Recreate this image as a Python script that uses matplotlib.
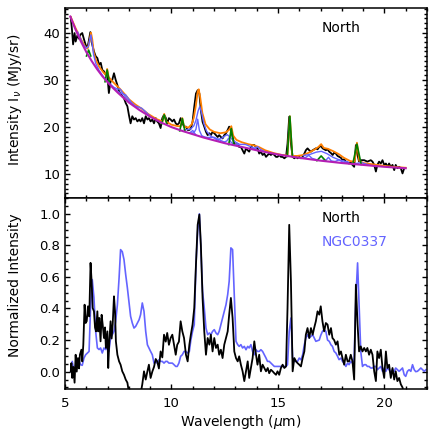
import matplotlib
matplotlib.use("Agg")
import matplotlib.pyplot as plt
from matplotlib.ticker import MultipleLocator, FormatStrFormatter

plt.rcParams['font.family'] = ['DejaVu Sans']
plt.rcParams['mathtext.fontset'] = 'dejavusans'

# ---- top panel: North spectrum and fit ----
wave_north = [5.27, 5.33, 5.38, 5.45, 5.50, 5.58, 5.66, 5.73, 5.81, 5.89, 5.97, 6.05,
              6.12, 6.19, 6.25, 6.36, 6.44, 6.52, 6.60, 6.68, 6.75, 6.83, 6.91, 6.98,
              7.06, 7.14, 7.22, 7.30, 7.38, 7.46, 7.54, 7.61, 7.69, 7.77, 7.85, 7.93,
              8.00, 8.08, 8.16, 8.24, 8.32, 8.40, 8.48, 8.55, 8.63, 8.71, 8.79, 8.87,
              8.94, 9.02, 9.10, 9.18, 9.26, 9.33, 9.41, 9.49, 9.57, 9.65, 9.73, 9.80,
              9.88, 9.96, 10.04, 10.12, 10.20, 10.27, 10.35, 10.43, 10.51, 10.59, 10.68,
              10.76, 10.84, 10.91, 10.99, 11.07, 11.15, 11.23, 11.31, 11.38, 11.46, 11.54,
              11.62, 11.70, 11.78, 11.85, 11.93, 12.01, 12.09, 12.17, 12.24, 12.32, 12.40,
              12.48, 12.56, 12.64, 12.71, 12.79, 12.87, 12.95, 13.03, 13.11, 13.18, 13.26,
              13.34, 13.42, 13.50, 13.58, 13.65, 13.73, 13.81, 13.89, 13.97, 14.04, 14.12,
              14.20, 14.28, 14.36, 14.44, 14.52, 14.59, 14.67, 14.75, 14.83, 14.91, 14.98,
              15.06, 15.14, 15.22, 15.30, 15.38, 15.45, 15.53, 15.61, 15.69, 15.77, 15.85,
              15.92, 16.00, 16.08, 16.16, 16.24, 16.31, 16.39, 16.47, 16.55, 16.63, 16.78,
              16.86, 16.94, 17.02, 17.10, 17.18, 17.25, 17.33, 17.41, 17.49, 17.57, 17.64,
              17.72, 17.80, 17.88, 17.96, 18.03, 18.11, 18.19, 18.27, 18.34, 18.42, 18.50,
              18.58, 18.66, 18.74, 18.81, 18.89, 19.05, 19.20, 19.36, 19.44, 19.52, 19.60,
              19.67, 19.75, 19.83, 19.91, 19.99, 20.07, 20.14, 20.22, 20.30, 20.38, 20.46,
              20.53, 20.61, 20.69, 20.77, 20.85, 20.93]
flux_north = [43.2, 40.5, 37.5, 39.9, 38.1, 39.4, 38.7, 39.6, 39.9, 38.6, 37.4, 36.7,
              38.3, 40.1, 38.0, 36.0, 35.0, 34.6, 33.2, 33.6, 32.1, 31.8, 31.1, 31.4,
              27.2, 29.7, 30.0, 31.4, 30.0, 28.9, 27.5, 27.2, 26.5, 26.1, 25.1, 24.4,
              22.6, 20.8, 22.3, 21.6, 21.9, 21.2, 21.6, 21.2, 21.9, 20.8, 22.3, 21.6,
              21.9, 21.2, 21.6, 20.8, 21.9, 21.2, 20.8, 19.8, 21.9, 22.6, 22.0, 20.8,
              21.9, 21.6, 21.2, 21.6, 20.8, 20.5, 20.8, 21.9, 20.9, 20.1, 20.1,
              19.4, 19.4, 19.7, 21.1, 24.3, 27.1, 27.8, 27.1, 23.6, 21.1, 20.1,
              19.0, 18.3, 18.7, 18.3, 19.0, 18.7, 18.3, 17.9, 18.3, 17.9, 17.6,
              18.3, 18.7, 19.4, 20.1, 19.7, 17.9, 16.5, 16.2, 16.5, 15.8, 15.8,
              15.1, 14.4, 15.5, 15.1, 14.8, 15.8, 16.2, 16.2, 15.8, 15.5, 14.4,
              14.8, 14.1, 14.4, 13.7, 14.1, 14.4, 14.1, 14.4, 14.1, 13.7, 13.7,
              14.1, 13.7, 13.7, 13.4, 13.7, 16.5, 22.2, 16.5, 13.7, 13.4, 13.7,
              13.4, 13.7, 13.4, 13.7, 14.4, 15.1, 15.5, 15.1, 14.8, 15.1, 15.5,
              15.3, 15.8, 16.0, 15.5, 15.3, 15.1, 15.3, 14.8, 14.5, 14.1, 14.6,
              14.4, 13.9, 13.7, 13.5, 13.0, 13.2, 12.7, 12.5, 12.3, 12.5, 12.0,
              11.6, 16.2, 14.0, 12.7, 13.0, 13.0, 12.7, 13.0, 12.7, 12.0, 10.6,
              12.0, 12.7, 12.3, 13.0, 12.0, 12.3, 11.6, 12.3, 11.6, 12.0, 10.9,
              12.0, 11.3, 11.6, 11.3, 10.2, 11.3]

wave_cont = [5.25, 5.5, 5.75, 6.0, 6.25, 6.5, 6.75, 7.0, 7.25, 7.5, 8.0, 8.5, 9.0,
             9.5, 10.0, 10.5, 11.0, 11.5, 12.0, 12.5, 13.0, 14.0, 15.0, 16.0, 17.0,
             18.0, 19.0, 20.0, 21.0]
flux_cont = [43.4, 40.6, 38.1, 35.9, 34.0, 32.3, 30.8, 29.5, 28.3, 27.2, 25.2, 23.6,
             22.2, 21.0, 20.0, 19.2, 18.5, 17.8, 17.2, 16.6, 16.1, 15.1, 14.2, 13.5,
             12.9, 12.4, 12.0, 11.6, 11.3]

wave_fit = [5.27, 5.5, 5.75, 5.95, 6.05, 6.11, 6.16, 6.22, 6.28, 6.35, 6.45, 6.6, 6.8,
            6.92, 6.98, 7.05, 7.2, 7.4, 7.6, 7.8, 8.0, 8.3, 8.6, 8.9, 9.3, 9.58, 9.66,
            9.74, 10.0, 10.3, 10.43, 10.51, 10.59, 10.8, 10.95, 11.05, 11.15, 11.23,
            11.28, 11.35, 11.45, 11.6, 11.8, 12.0, 12.3, 12.55, 12.7, 12.81, 12.9,
            13.05, 13.3, 13.6, 13.9, 14.1, 14.4, 14.8, 15.2, 15.45, 15.56, 15.67, 15.9,
            16.2, 16.45, 16.7, 16.9, 17.03, 17.15, 17.35, 17.6, 17.85, 18.1, 18.4, 18.6,
            18.71, 18.82, 19.0, 19.5, 20.0, 20.5, 21.0]
flux_fit = [43.3, 40.9, 38.6, 37.0, 36.6, 37.3, 38.4, 40.0, 38.6, 35.8, 34.2, 32.8, 31.6,
            31.0, 32.3, 30.6, 29.8, 28.9, 28.0, 27.0, 25.9, 24.8, 23.9, 22.8, 21.7, 21.2,
            22.8, 21.2, 20.5, 20.2, 20.2, 21.9, 20.1, 19.9, 20.6, 22.0, 24.7, 27.5,
            28.0, 26.3, 23.0, 20.6, 19.5, 19.0, 18.7, 18.9, 19.4, 20.2, 18.2,
            17.3, 16.8, 16.4, 16.1, 15.8, 15.1, 14.5, 14.1, 14.0, 22.3, 13.9, 13.9,
            14.1, 14.6, 15.2, 15.8, 16.4, 15.6, 15.4, 14.9, 14.3, 13.5, 12.8, 12.7,
            16.7, 12.9, 12.4, 12.1, 11.8, 11.55, 11.4]

# PAH features, each drawn as continuum + feature
pah_waves = [
    [5.6, 5.85, 6.0, 6.1, 6.16, 6.22, 6.28, 6.34, 6.44, 6.6, 6.8, 7.0],
    [7.0, 7.3, 7.45, 7.6, 7.75, 7.9, 8.2],
    [7.3, 7.6, 7.75, 7.85, 7.95, 8.1, 8.4],
    [8.2, 8.45, 8.6, 8.75, 9.0],
    [10.85, 10.95, 11.0, 11.05, 11.15],
    [10.9, 11.05, 11.15, 11.23, 11.31, 11.42, 11.6],
    [10.6, 10.9, 11.05, 11.15, 11.25, 11.33, 11.42, 11.52, 11.65, 11.85, 12.2],
    [11.5, 11.75, 12.0, 12.25, 12.5],
    [12.1, 12.35, 12.5, 12.62, 12.75, 12.9, 13.2],
    [12.45, 12.6, 12.69, 12.78, 12.95],
    [13.0, 13.25, 13.48, 13.7, 14.0],
    [13.75, 13.9, 14.04, 14.18, 14.35],
    [16.1, 16.3, 16.45, 16.6, 16.8],
    [16.2, 16.5, 16.8, 17.04, 17.3, 17.6, 17.9, 18.3],
    [17.1, 17.25, 17.375, 17.5, 17.65],
    [17.5, 17.7, 17.87, 18.05, 18.3],
    [18.6, 18.8, 18.92, 19.05, 19.3],
]
pah_fluxes = [
    [40.1, 37.5, 36.7, 37.1, 38.5, 39.5, 37.6, 35.4, 33.5, 32.0, 30.7, 29.6],
    [29.6, 28.4, 28.1, 28.0, 26.9, 25.9, 24.6],
    [28.2, 27.2, 27.0, 26.8, 26.2, 25.3, 24.0],
    [24.6, 24.25, 24.0, 23.4, 22.3],
    [18.8, 19.1, 19.3, 18.9, 18.35],
    [18.76, 18.78, 19.55, 21.68, 19.33, 18.21, 17.77],
    [19.41, 19.59, 20.27, 21.44, 23.41, 24.34, 22.94, 20.76, 19.13, 18.06, 17.22],
    [17.9, 17.8, 17.85, 17.3, 16.8],
    [17.3, 17.6, 18.1, 18.4, 17.9, 17.15, 16.29],
    [16.79, 17.07, 17.71, 16.89, 16.26],
    [16.3, 16.35, 16.32, 15.9, 15.27],
    [15.45, 15.55, 15.86, 15.29, 14.88],
    [13.54, 13.57, 14.03, 13.39, 13.12],
    [13.98, 14.22, 14.7, 14.88, 14.39, 13.58, 13.03, 12.6],
    [12.95, 12.98, 13.61, 12.85, 12.68],
    [12.72, 12.75, 13.07, 12.58, 12.35],
    [12.26, 12.38, 12.53, 12.28, 11.98],
]

# emission lines: centre, continuum level, peak, half width
line_center = [6.11, 6.98, 9.66, 10.51, 12.81, 15.56, 17.03, 18.71]
line_base = [35.05, 29.6, 20.7, 19.2, 16.3, 13.8, 12.9, 12.1]
line_peak = [36.3, 32.1, 22.6, 21.8, 19.7, 22.3, 13.9, 16.4]
line_hw = [0.1, 0.1, 0.12, 0.12, 0.12, 0.12, 0.2, 0.2]

# ---- bottom panel: normalized spectra ----
wave_norm = [5.27, 5.30, 5.34, 5.39, 5.45, 5.50, 5.55, 5.61, 5.66, 5.70, 5.77, 5.81,
             5.86, 5.92, 5.97, 6.02, 6.08, 6.14, 6.20, 6.25, 6.30, 6.36, 6.41, 6.46,
             6.52, 6.56, 6.61, 6.67, 6.72, 6.77, 6.83, 6.88, 6.92, 6.99, 7.03, 7.08,
             7.14, 7.19, 7.24, 7.30, 7.35, 7.39, 7.46, 7.54, 7.61, 7.69, 7.77, 7.85,
             7.93, 8.00, 8.10, 8.25, 8.40, 8.55, 8.63, 8.71, 8.79, 8.87, 8.94, 9.02,
             9.10, 9.18, 9.26, 9.33, 9.41, 9.49, 9.57, 9.65, 9.73, 9.80, 9.88, 9.96,
             10.04, 10.12, 10.20, 10.27, 10.35, 10.43, 10.51, 10.59, 10.68, 10.76, 10.84,
             10.91, 10.99, 11.07, 11.15, 11.23, 11.31, 11.38, 11.46, 11.54, 11.62, 11.70,
             11.78, 11.85, 11.93, 12.01, 12.09, 12.17, 12.24, 12.32, 12.40, 12.48, 12.56,
             12.64, 12.71, 12.79, 12.87, 12.95, 13.03, 13.11, 13.18, 13.26, 13.34, 13.42,
             13.50, 13.58, 13.65, 13.73, 13.81, 13.89, 13.97, 14.04, 14.12, 14.20, 14.28,
             14.36, 14.44, 14.52, 14.59, 14.67, 14.75, 14.83, 14.91, 14.98, 15.06, 15.14,
             15.22, 15.30, 15.38, 15.45, 15.53, 15.61, 15.69, 15.77, 15.85, 15.92, 16.00,
             16.08, 16.16, 16.24, 16.31, 16.39, 16.47, 16.55, 16.63, 16.70, 16.78, 16.86,
             16.94, 17.01, 17.09, 17.17, 17.25, 17.33, 17.41, 17.49, 17.56, 17.64, 17.72,
             17.80, 17.88, 17.96, 18.03, 18.11, 18.19, 18.27, 18.34, 18.42, 18.50, 18.58,
             18.66, 18.74, 18.81, 18.89, 18.97, 19.05, 19.13, 19.20, 19.28, 19.36, 19.44,
             19.52, 19.60, 19.67, 19.75, 19.83, 19.91, 19.99, 20.07, 20.14, 20.22, 20.30,
             20.38, 20.46, 20.53, 20.61, 20.69, 20.77, 20.85, 20.93]
norm_north = [0.00, 0.054, -0.04, 0.03, -0.07, 0.107, 0.0, 0.086, 0.02, 0.107, 0.139, 0.065,
              0.171, 0.424, 0.308, 0.32, 0.414, 0.35, 0.689, 0.572, 0.403, 0.382, 0.28, 0.255,
              0.382, 0.255, 0.34, 0.192, 0.36, 0.298, 0.213, 0.28, 0.15, 0.255, 0.023, 0.19,
              0.319, 0.21, 0.30, 0.477, 0.38, 0.192, 0.107, 0.065, 0.044, 0.002, -0.02, -0.05,
              -0.07, -0.13, -0.2, -0.25, -0.22, -0.14, -0.08, 0.002, -0.05, 0.002, 0.044, -0.04,
              0.0, 0.03, 0.08, 0.065, 0.02, 0.128, 0.09, 0.234, 0.19, 0.245, 0.17, 0.213,
              0.234, 0.17, 0.107, 0.17, 0.19, 0.319, 0.255, 0.213, 0.107, 0.065, 0.171,
              0.234, 0.298, 0.403, 0.678, 0.93, 0.995, 0.805, 0.467, 0.255, 0.107, 0.213,
              0.171, 0.234, 0.128, 0.213, 0.15, 0.171, 0.107, 0.139, 0.086, 0.171, 0.213,
              0.255, 0.361, 0.467, 0.34, 0.128, 0.086, 0.065, 0.097, 0.044, 0.002, -0.06,
              0.002, 0.065, -0.04, 0.023, 0.086, 0.192, 0.107, 0.044, 0.107, 0.002, 0.044,
              0.023, 0.002, 0.023, -0.01, 0.012, 0.002, -0.01, -0.02, 0.002, -0.02, 0.023,
              0.044, 0.023, 0.033, 0.403, 0.93, 0.572, 0.002, 0.086, 0.065, 0.054, 0.044,
              0.033, 0.086, 0.128, 0.234, 0.276, 0.213, 0.276, 0.234, 0.276, 0.319, 0.382,
              0.361, 0.414, 0.319, 0.255, 0.308, 0.298, 0.234, 0.276, 0.213, 0.2, 0.171,
              0.192, 0.107, 0.128, 0.086, 0.044, 0.107, 0.065, 0.065, 0.107, 0.065, -0.05,
              0.551, 0.298, 0.128, 0.16, 0.128, 0.15, 0.128, 0.15, 0.107, 0.139, 0.107,
              0.002, -0.06, 0.128, 0.086, 0.139, 0.023, -0.04, 0.128, 0.023, 0.044, -0.04,
              0.023, -0.05, 0.002, -0.06, -0.04, -0.08, -0.1, -0.15]

wave_ngc = [5.27, 5.34, 5.42, 5.50, 5.58, 5.66, 5.73, 5.81, 5.89, 5.97, 6.05, 6.13,
            6.20, 6.28, 6.36, 6.44, 6.52, 6.60, 6.67, 6.75, 6.83, 6.91, 6.99, 7.06,
            7.14, 7.22, 7.30, 7.38, 7.46, 7.54, 7.61, 7.69, 7.77, 7.85, 7.93, 8.00,
            8.08, 8.16, 8.24, 8.32, 8.40, 8.48, 8.55, 8.63, 8.71, 8.79, 8.87, 8.94,
            9.02, 9.10, 9.18, 9.26, 9.33, 9.41, 9.49, 9.57, 9.65, 9.73, 9.80, 9.88,
            9.96, 10.04, 10.12, 10.20, 10.27, 10.35, 10.43, 10.51, 10.59, 10.67, 10.76,
            10.84, 10.91, 10.99, 11.07, 11.15, 11.23, 11.31, 11.38, 11.46, 11.54, 11.62,
            11.70, 11.78, 11.85, 11.93, 12.01, 12.09, 12.17, 12.24, 12.32, 12.40, 12.48,
            12.56, 12.64, 12.71, 12.79, 12.87, 12.95, 13.03, 13.11, 13.18, 13.26, 13.34,
            13.42, 13.50, 13.58, 13.65, 13.73, 13.81, 13.89, 13.97, 14.04, 14.12, 14.20,
            14.28, 14.36, 14.44, 14.51, 14.59, 14.67, 14.75, 14.83, 15.00, 15.20, 15.38,
            15.45, 15.53, 15.61, 15.69, 15.77, 15.85, 15.92, 16.00, 16.08, 16.16, 16.24,
            16.31, 16.39, 16.47, 16.63, 16.78, 16.94, 17.01, 17.09, 17.17, 17.25, 17.33,
            17.41, 17.49, 17.56, 17.64, 17.72, 17.80, 17.87, 17.96, 18.03, 18.11, 18.19,
            18.27, 18.34, 18.42, 18.50, 18.58, 18.66, 18.74, 18.81, 18.89, 18.97, 19.05,
            19.13, 19.20, 19.28, 19.36, 19.44, 19.52, 19.60, 19.67, 19.75, 19.83, 19.91,
            19.99, 20.07, 20.14, 20.22, 20.30, 20.38, 20.46, 20.53, 20.61, 20.69, 20.77,
            20.85, 20.93, 21.00, 21.08, 21.16, 21.24, 21.32, 21.40, 21.47, 21.55, 21.63,
            21.71, 21.79, 21.87, 21.95]
norm_ngc = [0.002, 0.065, 0.002, 0.044, 0.03, 0.065, 0.044, 0.04, 0.086, 0.107, 0.118, 0.128,
            0.403, 0.583, 0.467, 0.255, 0.15, 0.14, 0.15, 0.118, 0.15, 0.14, 0.15, 0.128,
            0.213, 0.234, 0.255, 0.319, 0.424, 0.594, 0.773, 0.76, 0.71, 0.615, 0.53, 0.446,
            0.351, 0.308, 0.276, 0.287, 0.308, 0.329, 0.361, 0.435, 0.382, 0.255, 0.17, 0.15,
            0.128, 0.107, 0.054, 0.065, 0.054, 0.075, 0.065, 0.065, 0.054, 0.065, 0.065, 0.054,
            0.054, 0.054, 0.044, 0.033, 0.033, 0.054, 0.097, 0.107, 0.128, 0.128, 0.118,
            0.128, 0.2, 0.255, 0.298, 0.678, 0.89, 1.0, 0.784, 0.509, 0.403, 0.276,
            0.234, 0.245, 0.234, 0.255, 0.266, 0.245, 0.234, 0.255, 0.298, 0.34, 0.382,
            0.424, 0.488, 0.572, 0.784, 0.773, 0.488, 0.192, 0.171, 0.16, 0.171, 0.15,
            0.16, 0.139, 0.16, 0.15, 0.171, 0.128, 0.107, 0.139, 0.128, 0.128, 0.139,
            0.128, 0.107, 0.086, 0.065, 0.065, 0.054, 0.044, 0.033, 0.033, 0.033, 0.033,
            0.044, 0.255, 0.34, 0.086, 0.065, 0.065, 0.065, 0.086, 0.075, 0.107, 0.171,
            0.213, 0.234, 0.213, 0.234, 0.192, 0.2, 0.23, 0.255, 0.266, 0.255, 0.2,
            0.192, 0.17, 0.16, 0.128, 0.118, 0.097, 0.076, 0.086, 0.065, 0.054, 0.033,
            0.054, 0.044, 0.065, 0.054, 0.086, 0.467, 0.689, 0.424, 0.128, 0.033, 0.044,
            0.044, 0.033, 0.033, 0.023, 0.023, 0.033, 0.033, 0.012, 0.023, 0.033, 0.002,
            0.023, 0.002, 0.023, 0.012, -0.01, 0.012, 0.002, 0.023, 0.012, 0.002, 0.012,
            0.023, -0.02, -0.03, 0.002, 0.012, 0.002, 0.044, 0.012, 0.0, 0.002, 0.012,
            0.023, 0.012, 0.002, 0.012]

black = '#000000'
orange = '#ff7f00'
blue = '#6464ff'
green = '#008000'
magenta = '#b41eb4'

fig = plt.figure(figsize=(4.36, 4.36), dpi=100)
W = H = 436.0
ax1 = fig.add_axes([65 / W, 1 - 198 / H, 362 / W, 190 / H])
ax2 = fig.add_axes([65 / W, 1 - 389 / H, 362 / W, 191 / H])

ax1.plot(wave_north, flux_north, color=black, lw=1.3, zorder=2)
ax1.plot(wave_fit, flux_fit, color=orange, lw=1.3, zorder=3)
for wx, fx in zip(pah_waves, pah_fluxes):
    ax1.plot(wx, fx, color=blue, lw=1.0, zorder=4)
for c, b, p, hw in zip(line_center, line_base, line_peak, line_hw):
    ax1.plot([c - hw, c, c + hw], [b, p, b], color=green, lw=1.2, zorder=5)
ax1.plot(wave_cont, flux_cont, color=magenta, lw=1.5, zorder=6)

ax2.plot(wave_norm, norm_north, color=black, lw=1.3, zorder=3)
ax2.plot(wave_ngc, norm_ngc, color=blue, lw=1.2, zorder=2)

ax1.set_xlim(5, 22)
ax2.set_xlim(5, 22)
ax1.set_ylim(5, 45.2)
ax2.set_ylim(-0.11, 1.1)

for ax in (ax1, ax2):
    ax.xaxis.set_major_locator(MultipleLocator(5))
    ax.xaxis.set_minor_locator(MultipleLocator(1))
    ax.tick_params(which='both', direction='in', top=True, right=True,
                   width=1.0, labelsize=9.5)
    ax.tick_params(which='major', length=3.8)
    ax.tick_params(which='minor', length=2.0)
    ax.tick_params(axis='y', pad=3.5)
    ax.tick_params(axis='x', pad=5.5)
    for s in ax.spines.values():
        s.set_linewidth(1.1)

ax1.yaxis.set_major_locator(MultipleLocator(10))
ax1.yaxis.set_minor_locator(MultipleLocator(1))
ax1.tick_params(axis='x', labelbottom=False)
ax2.yaxis.set_major_locator(MultipleLocator(0.2))
ax2.yaxis.set_minor_locator(MultipleLocator(0.05))
ax2.yaxis.set_major_formatter(FormatStrFormatter('%.1f'))

ax1.text(0.709, 0.872, 'North', transform=ax1.transAxes, fontsize=10, va='baseline')
ax2.text(0.709, 0.873, 'North', transform=ax2.transAxes, fontsize=10, va='baseline',
         color=black)
ax2.text(0.709, 0.749, 'NGC0337', transform=ax2.transAxes, fontsize=10, va='baseline',
         color=blue)

fig.text(15 / W, 1 - 100 / H, r'Intensity I$_\nu$ (MJy/sr)', rotation=90,
         ha='center', va='center', fontsize=10)
fig.text(15 / W, 1 - 285 / H, 'Normalized Intensity', rotation=90,
         ha='center', va='center', fontsize=10)
fig.text(241 / W, 1 - 422 / H, r'Wavelength ($\mu$m)', ha='center', va='center',
         fontsize=10)

fig.savefig('out.png', dpi=100)
